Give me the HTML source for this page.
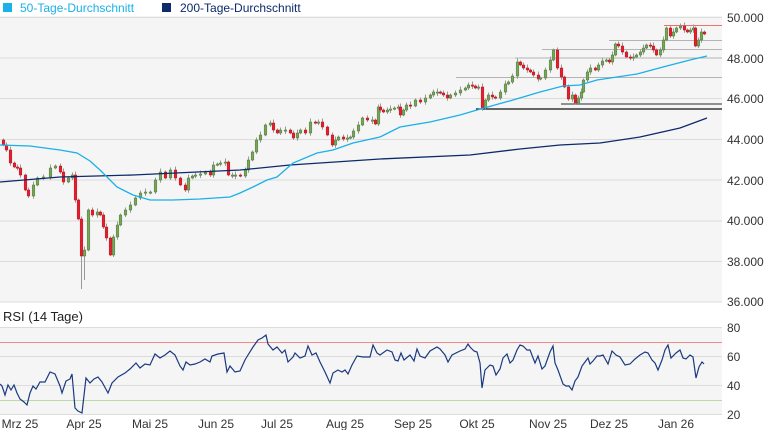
<!DOCTYPE html>
<html><head><meta charset="utf-8">
<style>
html,body{margin:0;padding:0;background:#fff;}
body{width:765px;height:430px;overflow:hidden;font-family:"Liberation Sans",sans-serif;}
svg{display:block;}
</style></head><body>
<svg id="c" width="765" height="430" xmlns="http://www.w3.org/2000/svg" font-family="Liberation Sans, sans-serif">
<rect x="0" y="16" width="722" height="286" fill="#f5f5f5"/>
<rect x="0" y="327" width="722" height="88" fill="#f5f5f5"/>
<g stroke="#dcdcdc" stroke-width="1">
<line x1="0" x2="722" y1="17.5" y2="17.5"/><line x1="0" x2="722" y1="58" y2="58"/>
<line x1="0" x2="722" y1="98.5" y2="98.5"/><line x1="0" x2="722" y1="139.5" y2="139.5"/>
<line x1="0" x2="722" y1="180" y2="180"/><line x1="0" x2="722" y1="221" y2="221"/>
<line x1="0" x2="722" y1="261.5" y2="261.5"/><line x1="0" x2="722" y1="302" y2="302"/>
<line x1="0" x2="722" y1="327.5" y2="327.5"/><line x1="0" x2="722" y1="356.5" y2="356.5"/>
<line x1="0" x2="722" y1="385.5" y2="385.5"/><line x1="0" x2="722" y1="414.5" y2="414.5"/>
</g>
<line x1="0" x2="722" y1="342.5" y2="342.5" stroke="#f08a8a"/>
<line x1="0" x2="722" y1="400.5" y2="400.5" stroke="#bcd9a8"/>
<g stroke="#b4b4b4" stroke-width="1">
<line x1="609" x2="722" y1="40.5" y2="40.5"/>
<line x1="542" x2="722" y1="49.5" y2="49.5"/>
<line x1="515" x2="722" y1="58" y2="58"/>
<line x1="456" x2="722" y1="77.5" y2="77.5"/>
</g>
<line x1="664" x2="722" y1="25.5" y2="25.5" stroke="#f07070"/>
<line x1="561" x2="722" y1="104" y2="104" stroke="#555" stroke-width="1.3"/>
<line x1="476" x2="722" y1="109" y2="109" stroke="#111" stroke-width="1.2"/>
<line x1="81.5" x2="81.5" y1="250" y2="289" stroke="#999"/>
<line x1="84.5" x2="84.5" y1="250" y2="280" stroke="#999"/>
<g id="cand"></g>
<polyline id="ma200" fill="none" stroke="#0d2a6b" stroke-width="1.3"/>
<polyline id="ma50" fill="none" stroke="#1ab0e8" stroke-width="1.3"/>
<polyline id="rsi" fill="none" stroke="#1a3a80" stroke-width="1.2"/>
<rect x="3" y="3" width="9" height="9" fill="#1ab0e8"/>
<text x="20" y="12" font-size="12" fill="#1ab0e8">50-Tage-Durchschnitt</text>
<rect x="162" y="3" width="9" height="9" fill="#0d2a6b"/>
<text x="180" y="12" font-size="12" fill="#0d2a6b">200-Tage-Durchschnitt</text>
<text x="3" y="321" font-size="13" fill="#222">RSI (14 Tage)</text>
<g font-size="12" fill="#333">
<text x="727" y="22">50.000</text><text x="727" y="63">48.000</text>
<text x="727" y="103">46.000</text><text x="727" y="144">44.000</text>
<text x="727" y="185">42.000</text><text x="727" y="225">40.000</text>
<text x="727" y="266">38.000</text><text x="727" y="306">36.000</text>
<text x="727" y="332">80</text><text x="727" y="361">60</text>
<text x="727" y="390">40</text><text x="727" y="419">20</text>
</g>
<g font-size="12" fill="#333" text-anchor="middle">
<text x="20" y="428">Mrz 25</text><text x="84" y="428">Apr 25</text>
<text x="150" y="428">Mai 25</text><text x="216" y="428">Jun 25</text>
<text x="277" y="428">Jul 25</text><text x="345" y="428">Aug 25</text>
<text x="413" y="428">Sep 25</text><text x="477" y="428">Okt 25</text>
<text x="548" y="428">Nov 25</text><text x="609" y="428">Dez 25</text>
<text x="676" y="428">Jan 26</text>
</g>
</svg>
<script>
(function(){
var P=[[3,145],[6,150],[10,163],[14,167],[17,168],[20,175],[25,190],[28,196],[33,185],[37,178],[43,177],[50,168],[55,166],[60,172],[63,182],[68,178],[72,175],[75,200],[78,219],[81,256],[84,250],[88,210],[92,215],[97,212],[100,215],[103,227],[106,238],[110,255],[113,237],[117,225],[120,215],[125,210],[130,205],[135,198],[140,193],[145,192],[150,192],[155,180],[160,172],[165,178],[170,170],[175,178],[180,185],[185,190],[188,178],[192,176],[195,175],[200,174],[205,172],[210,175],[213,165],[217,164],[220,163],[225,162],[228,175],[232,175],[235,175],[240,176],[245,170],[248,160],[252,152],[256,140],[260,135],[265,125],[270,123],[273,130],[277,133],[280,130],[285,130],[290,133],[293,138],[297,133],[300,130],[305,133],[310,122],[315,123],[318,122],[322,127],[327,135],[332,145],[335,140],[338,137],[343,139],[347,138],[350,137],[353,131],[358,125],[362,118],[367,120],[372,120],[375,124],[378,107],[380,110],[383,112],[387,110],[390,109],[394,108],[398,107],[400,115],[403,110],[406,105],[410,106],[415,100],[420,102],[425,98],[430,95],[433,92],[437,92],[440,93],[443,95],[447,98],[450,95],[455,93],[460,90],[465,88],[468,85],[472,86],[475,88],[478,87],[482,108],[485,100],[488,95],[492,97],[495,98],[500,92],[505,84],[508,82],[512,76],[517,62],[520,65],[523,68],[527,70],[530,72],[533,75],[538,79],[540,78],[545,70],[550,60],[553,50],[557,68],[561,77],[564,87],[568,99],[572,95],[575,103],[578,98],[581,92],[583,80],[587,72],[590,68],[595,70],[598,65],[602,61],[606,60],[609,62],[612,55],[615,44],[618,46],[622,52],[626,57],[630,58],[633,57],[636,55],[640,52],[643,48],[646,45],[650,46],[653,50],[656,55],[660,50],[663,40],[666,28],[670,36],[673,32],[676,28],[680,26],[684,30],[687,32],[690,30],[693,28],[695,46],[698,40],[701,32],[704,34]];
var g=document.getElementById('cand'),s='',prev=140;
for(var i=0;i<P.length;i++){var x=P[i][0],c=P[i][1],o=(i==0?140:prev);
var bt=Math.min(o,c),bb=Math.max(o,c);if(bb-bt<1.2){bb=bt+1.2;}
var up=c<=o;var h=(i*7)%3+1.5;
s+='<line x1="'+(x+0.5)+'" x2="'+(x+0.5)+'" y1="'+(bt-h)+'" y2="'+(bb+h*0.8)+'" stroke="#999" stroke-width="1"/>';
s+='<rect x="'+(x-0.8)+'" y="'+bt+'" width="2.6" height="'+(bb-bt)+'" fill="'+(up?'#78a65a':'#e3202e')+'" stroke="'+(up?'#4f7a38':'#c0101e')+'" stroke-width="0.5"/>';
prev=c;}
g.innerHTML=s;
function pl(id,a){document.getElementById(id).setAttribute('points',a.map(function(p){return p.join(',')}).join(' '));}
pl('ma50',[[0,145],[30,146],[60,150],[77,153],[90,161],[100,170],[117,187],[133,195],[150,200],[173,200],[200,199],[230,197],[240,193],[253,187],[267,180],[277,177],[293,163],[317,153],[333,150],[353,143],[380,137],[400,127],[430,122],[460,115],[477,110],[513,100],[540,92],[563,86],[580,85],[597,80],[637,74],[663,67],[690,60],[707,56]]);
pl('ma200',[[0,182],[60,177],[133,175],[240,170],[290,165],[380,159],[470,155],[520,149],[560,145],[600,143],[640,137],[680,128],[707,118]]);
pl('rsi',[[0,384],[2,386],[5,395],[8,385],[11,390],[14,385],[17,393],[20,399],[24,402],[27,405],[30,393],[33,386],[36,389],[40,382],[45,382],[50,372],[55,374],[60,386],[62,393],[66,381],[70,379],[72,374],[75,408],[78,411],[82,413],[86,378],[90,383],[94,379],[98,377],[102,382],[108,393],[112,383],[118,377],[125,373],[130,369],[136,363],[140,368],[145,364],[150,365],[155,354],[160,358],[165,355],[170,351],[175,355],[180,366],[183,370],[186,362],[190,365],[195,364],[200,362],[205,359],[210,362],[212,356],[218,354],[224,353],[227,372],[230,366],[235,372],[240,371],[245,360],[248,355],[253,347],[258,340],[262,338],[266,335],[268,344],[273,350],[277,347],[282,353],[285,350],[288,362],[293,357],[295,353],[300,358],[305,356],[308,346],[312,355],[316,353],[320,362],[325,372],[330,383],[333,373],[338,370],[342,372],[345,370],[348,374],[352,365],[357,356],[363,357],[370,357],[373,345],[377,353],[380,355],[387,350],[392,352],[395,360],[398,361],[401,353],[404,360],[410,355],[414,361],[417,349],[420,356],[425,358],[430,351],[437,347],[440,349],[445,355],[448,362],[452,355],[460,351],[465,349],[468,344],[470,347],[474,351],[477,352],[480,363],[482,388],[485,370],[490,365],[493,366],[496,375],[500,369],[503,358],[507,354],[510,363],[513,360],[517,350],[520,345],[523,346],[527,350],[530,350],[535,363],[538,356],[542,369],[545,366],[550,352],[553,346],[555,363],[558,370],[563,384],[566,386],[569,386],[572,390],[575,381],[578,377],[582,366],[585,362],[588,358],[590,364],[593,361],[597,356],[600,356],[603,355],[608,364],[612,351],[616,355],[620,357],[625,365],[630,364],[635,359],[640,355],[645,352],[648,353],[652,360],[655,363],[658,370],[662,360],[665,350],[668,345],[671,358],[676,353],[680,350],[683,358],[686,359],[690,355],[693,357],[696,378],[699,367],[702,362],[704,364]]);
})();
</script>
</body></html>
